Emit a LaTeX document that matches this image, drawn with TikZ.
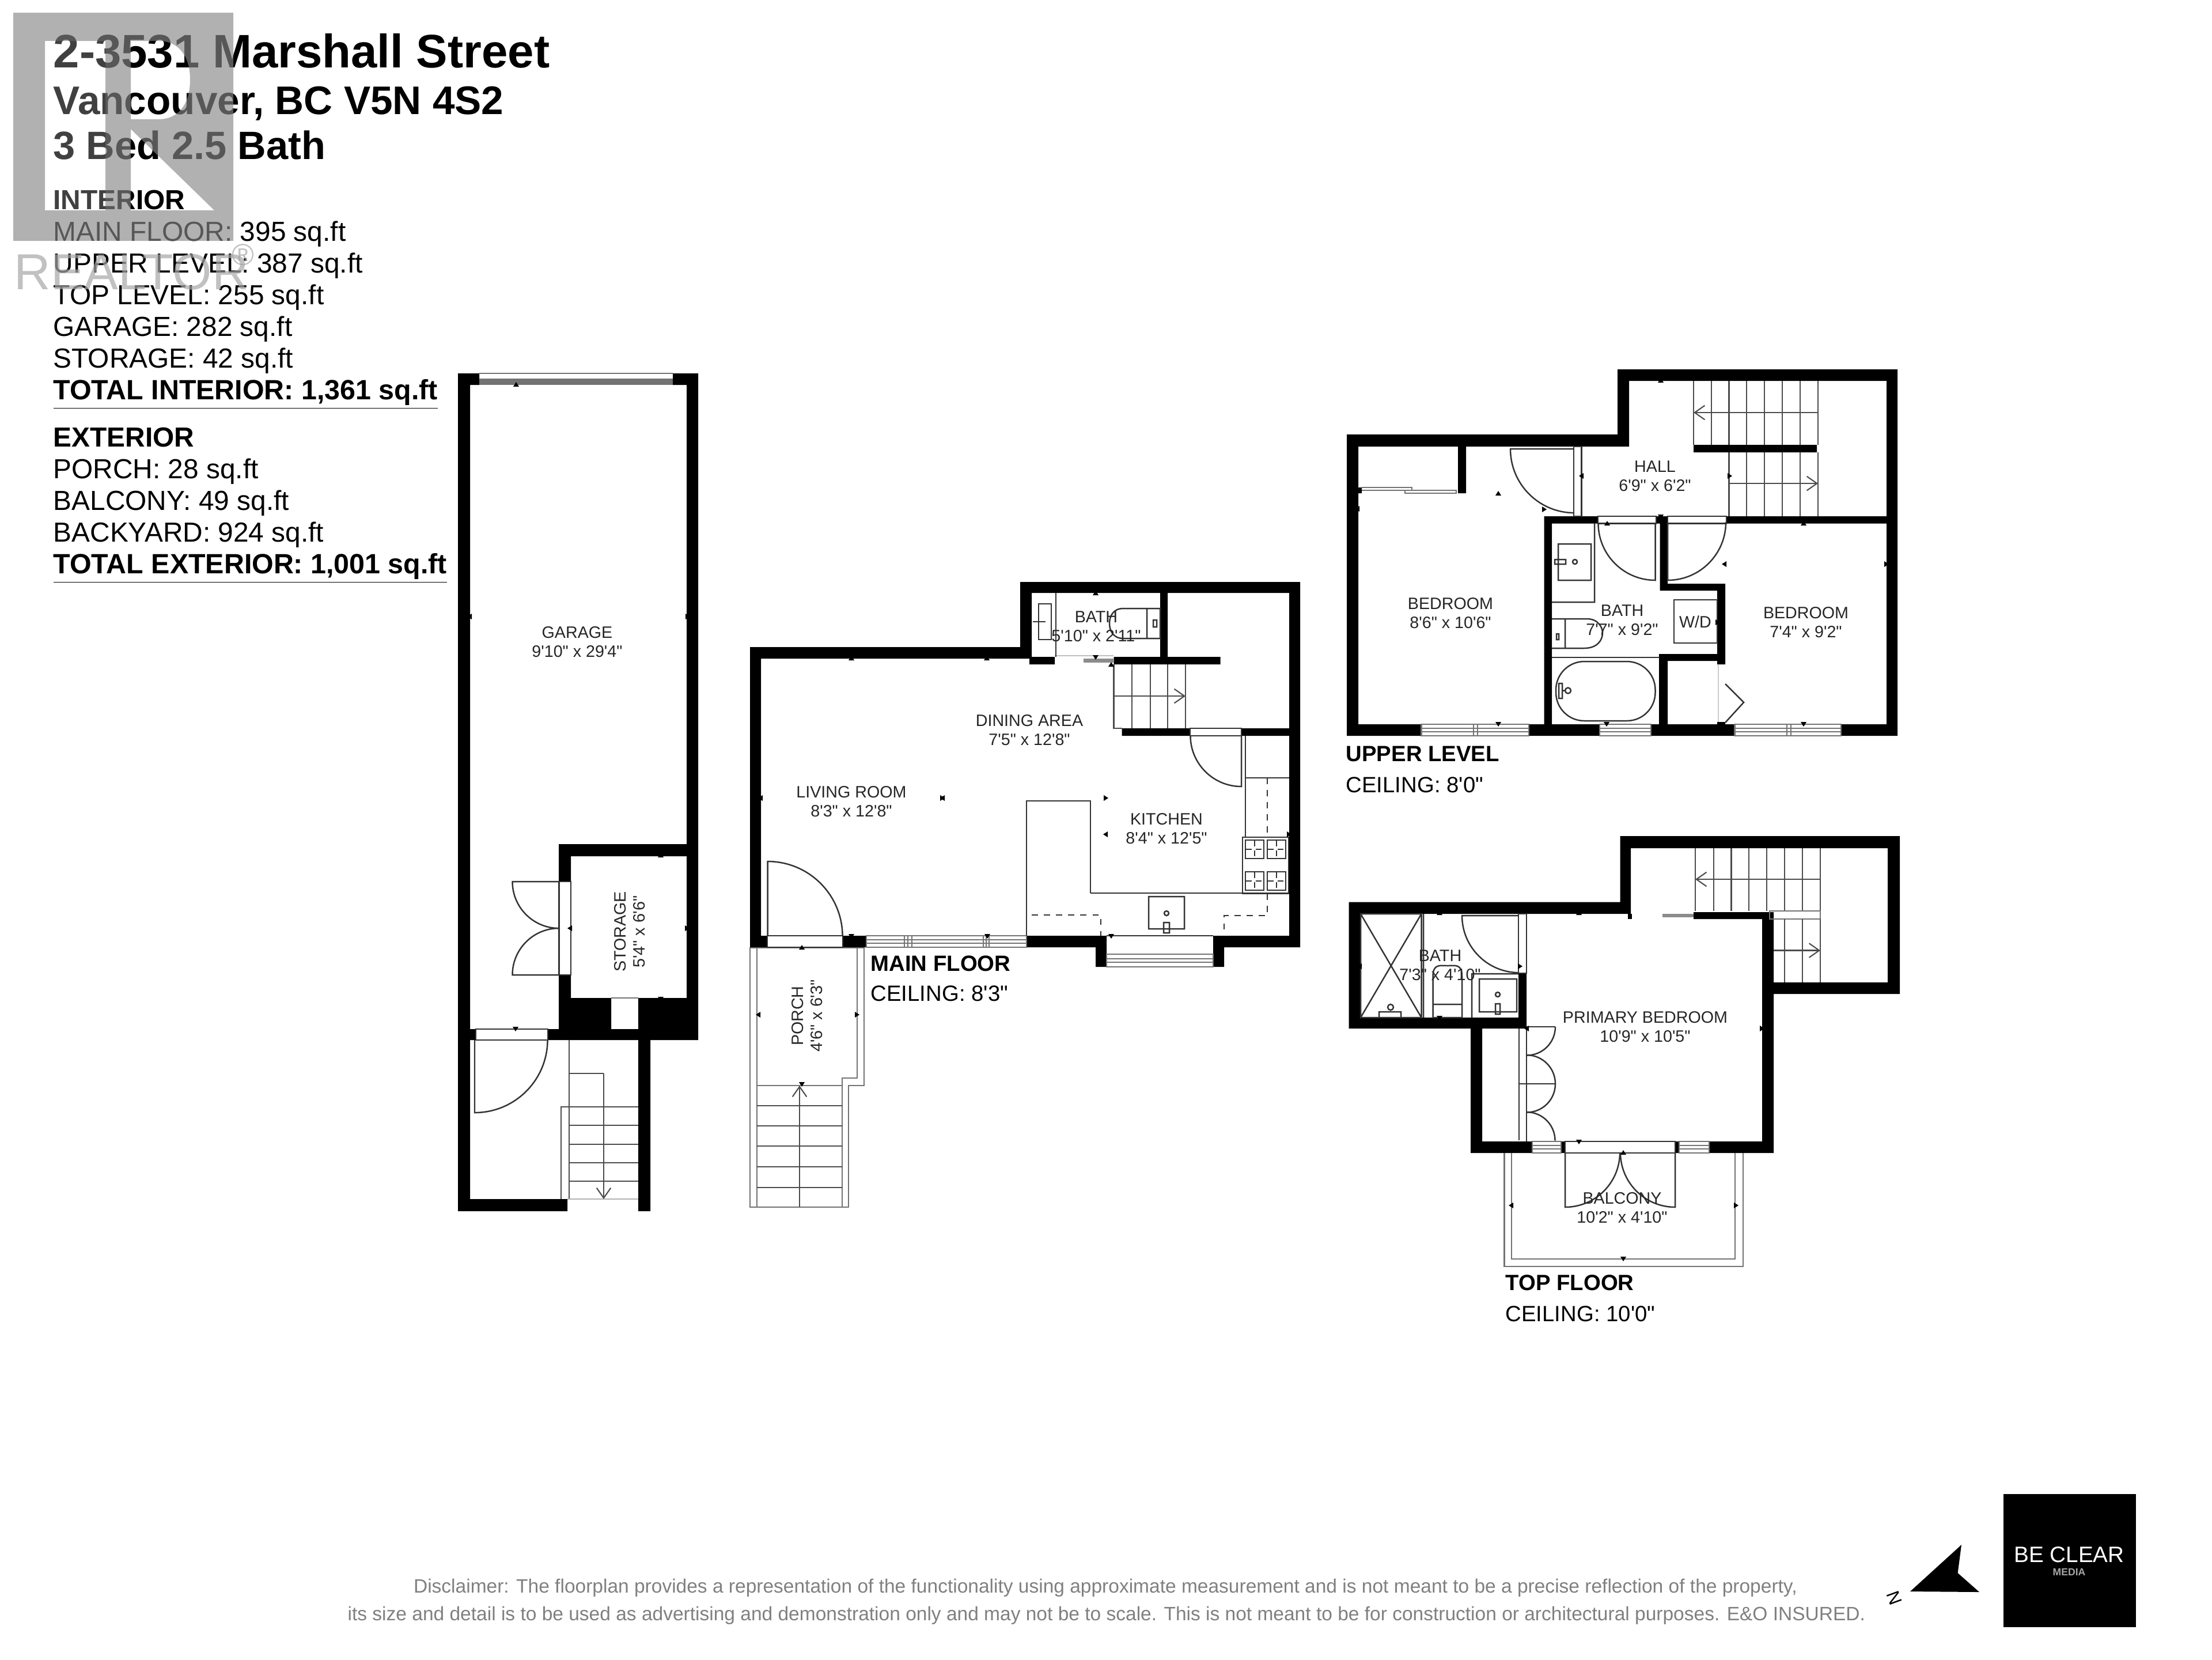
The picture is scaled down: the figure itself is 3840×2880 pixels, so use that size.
\documentclass[tikz,border=0pt]{standalone}
\usepackage{fontspec}
\usetikzlibrary{arrows.meta}
\newfontfamily\planfont{Liberation Sans}
\newcommand{\tickmark}[3]{\fill[black,shift={(#1,#2)},rotate=#3] (-5,0) -- (5,0) -- (0,-8) -- cycle;}
\newcommand{\hwindow}[4]{\draw[greyline] (#1,#3) rectangle (#2,#4) (#1,{#3+(#4-#3)*0.35}) -- (#2,{#3+(#4-#3)*0.35}) (#1,{#3+(#4-#3)*0.65}) -- (#2,{#3+(#4-#3)*0.65});}
\tikzset{
  wall/.style={fill=black,draw=none},
  thinline/.style={draw=black!80,line width=.7pt},
  greyline/.style={draw=black!55,line width=.6pt},
  stairline/.style={draw=black!70,line width=.6pt},
  stairarrow/.style={draw=black!70,line width=.6pt,->,>={Straight Barb[length=5pt,width=7pt]}},
  room/.style={font=\planfont\fontsize{8.15}{9.5}\selectfont,text=black!85,align=center,inner sep=0pt},
  floorname/.style={font=\planfont\bfseries\fontsize{10.9}{12}\selectfont,anchor=west,inner sep=0pt},
  ceiling/.style={font=\planfont\fontsize{10.9}{13}\selectfont,anchor=west,inner sep=0pt},
  areas/.style={font=\planfont\fontsize{13.6}{15.65}\selectfont,align=left,anchor=north west,inner sep=0pt},
  disclaimer/.style={font=\planfont\fontsize{9.53}{11}\selectfont,text=black!50,inner sep=0pt}
}
\begin{document}
\begin{tikzpicture}[x=0.01cm,y=-0.01cm]
\useasboundingbox (0,0) rectangle (3840,2880);

\node[font=\planfont\bfseries\fontsize{23.2}{26}\selectfont,anchor=west,inner sep=0pt] (title) at (92,88) {2-3531 Marshall Street};
\node[font=\planfont\bfseries\fontsize{19.7}{22}\selectfont,anchor=west,inner sep=0pt] (city) at (92,180) {Vancouver, BC V5N 4S2};
\node[font=\planfont\bfseries\fontsize{19.5}{22}\selectfont,anchor=west,inner sep=0pt] (beds) at (92,252) {3 Bed 2.5 Bath};
\node[areas] (interior) at (92,329) {\textbf{INTERIOR}\\MAIN FLOOR: 395 sq.ft\\UPPER LEVEL: 387 sq.ft\\TOP LEVEL: 255 sq.ft\\GARAGE: 282 sq.ft\\STORAGE: 42 sq.ft\\\fontsize{13.75}{15.65}\selectfont\textbf{\underline{TOTAL INTERIOR: 1,361 sq.ft}}};
\node[areas] (exterior) at (92,741) {\textbf{EXTERIOR}\\PORCH: 28 sq.ft\\BALCONY: 49 sq.ft\\BACKYARD: 924 sq.ft\\\fontsize{13.75}{15.65}\selectfont\textbf{\underline{TOTAL EXTERIOR: 1,001 sq.ft}}};

\fill[black!47,opacity=.65,even odd rule] (23,22) rectangle (405,418)
  (78,71) -- (183,71) -- (183,365) -- (78,365) -- cycle
  (227,71) -- (275,71) .. controls (312,71) and (330,100) .. (330,138) .. controls (330,178) and (312,207) .. (275,207) -- (227,207) -- cycle
  (227,224) -- (372,365) -- (227,365) -- cycle;
\fill[white,opacity=.25] (78,71) rectangle (183,365);
\node[font=\planfont\fontsize{25}{28}\selectfont,text=black!35,text opacity=.7,anchor=west,inner sep=0pt] (realtor) at (24,472) {REALTOR};
\node[font=\planfont\fontsize{15}{17}\selectfont,text=black!35,text opacity=.7,inner sep=0pt] (registered) at (422,442) {®};

% garage
\path[wall] (795,648) rectangle (816,2102) (795,648) rectangle (832,668) (1168,648) rectangle (1212,668)
  (1192,648) rectangle (1212,1805) (970,1465) rectangle (1192,1486) (970,1465) rectangle (991,1530)
  (970,1692) rectangle (991,1732) (970,1732) rectangle (1061,1805) (1108,1732) rectangle (1212,1805)
  (1061,1786) rectangle (1108,1805) (951,1786) rectangle (970,1805) (795,1786) rectangle (826,1805)
  (1108,1805) rectangle (1129,2102) (795,2081) rectangle (985,2102);
\fill[black!55] (832,657) rectangle (1168,668);
\draw[greyline] (832,648) -- (1168,648);
\draw[thinline] (970.5,1530) rectangle (991,1692);
\draw[thinline] (826,1786) rectangle (951,1805);
\draw[greyline] (1061,1732) -- (1108,1732);
\draw[thinline] (970.5,1530) -- (889.5,1530) arc[start angle=180,end angle=270,radius=.81cm];
\draw[thinline] (970.5,1692) -- (889.5,1692) arc[start angle=180,end angle=90,radius=.81cm];
\draw[thinline] (824,1805) -- (824,1931) arc[start angle=270,end angle=360,radius=1.265cm];
\draw[stairline] (988,1805) -- (988,2081) (974,2081) -- (974,1921) -- (1108,1921) (988,1863) -- (1048,1863);
\foreach \y in {1953,1986,2018,2050} \draw[stairline] (988,\y) -- (1108,\y);
\draw[greyline,draw=black!30] (985,2081) -- (1108,2081);
\draw[stairarrow] (1048,1863) -- (1048,2081);
\node[room] (garage) at (1002,1114) {GARAGE\\9'10" x 29'4"};
\node[room,rotate=90] (storage) at (1093,1617) {STORAGE\\5'4" x 6'6"};

% porch
\draw[greyline] (1302,1645) -- (1302,2095) -- (1473,2095) -- (1473,1884) -- (1500,1884) -- (1500,1645) -- cycle;
\draw[greyline] (1314,1645) -- (1314,2095) (1488,1645) -- (1488,1871) -- (1462,1871) -- (1462,2095) (1314,1884) -- (1462,1884);
\foreach \y in {1919,1954,1989,2025,2061} \draw[stairline] (1314,\y) -- (1462,\y);
\draw[stairarrow] (1388,2095) -- (1388,1884);
\node[room,rotate=90] (porch) at (1401,1763) {PORCH\\4'6" x 6'3"};

% main floor
\path[wall] (1302,1123) rectangle (1787,1143) (1302,1123) rectangle (1321,1644) (1771,1010) rectangle (1791,1143)
  (1771,1010) rectangle (2257,1029) (2238,1010) rectangle (2257,1644) (2014,1029) rectangle (2027,1140)
  (1933.5,1140) rectangle (2118.5,1153) (1787,1140) rectangle (1831,1153) (1947.5,1264) rectangle (2066,1277)
  (2155,1264) rectangle (2238,1277) (1302,1624) rectangle (1332,1644) (1463,1624) rectangle (1504,1644)
  (1782,1624) rectangle (1921,1644) (1902,1644) rectangle (1921,1678) (2106,1624) rectangle (2125,1678)
  (2106,1624) rectangle (2257,1644);
\hwindow{1504}{1782}{1624}{1644}
\hwindow{1921}{2106}{1656}{1678}
\draw[greyline] (1570,1624) -- (1570,1644) (1576,1624) -- (1576,1644) (1583,1624) -- (1583,1644) (1707,1624) -- (1707,1644) (1712,1624) -- (1712,1644) (1717,1624) -- (1717,1644);
\draw[thinline] (1332,1624) rectangle (1463,1644) (2066,1264) rectangle (2155,1277) (1921,1624) -- (2106,1624);
\draw[thinline] (1332.5,1624) -- (1332.5,1495) arc[start angle=90,end angle=0,radius=1.3cm];
\draw[thinline] (2155,1277) -- (2155,1365) arc[start angle=270,end angle=180,radius=.885cm];
\fill[black!45] (1881,1143) rectangle (1933,1150);
\draw[draw=black!25,line width=.6pt] (1831,1138) -- (1933,1138);
\draw[thinline] (1833,1029) -- (1833,1140) (1803,1048) rectangle (1825,1110) (1793,1079) -- (1815,1079);
\draw[thinline] (1991,1056) rectangle (2014,1108) (1991,1056) -- (1950,1056) .. controls (1932,1056) and (1926,1070) .. (1926,1082) .. controls (1926,1094) and (1932,1108) .. (1950,1108) -- (1991,1108) (2002,1076) rectangle (2008,1088);
\draw[stairline] (1933.5,1153) -- (1933.5,1264) -- (1947.5,1264);
\foreach \x in {1965,1997,2027,2058} \draw[stairline] (\x,1153) -- (\x,1264);
\draw[stairarrow] (1933.5,1208) -- (2058,1208);
\draw[thinline] (2162,1277) -- (2162,1453) (2162,1350) -- (2238,1350) (1893,1550) -- (2238,1550) (1893,1550) -- (1893,1390) -- (1782,1390) -- (1782,1624);
\draw[thinline,dashed] (1791,1588) -- (1911,1588) -- (1911,1624) (2200,1350) -- (2200,1453) (2200,1551) -- (2200,1589) -- (2125,1589) -- (2125,1622);
\draw[thinline] (2157,1453) rectangle (2237,1551);
\foreach \x in {2162,2200} \foreach \y in {1458,1513} {
  \draw[thinline] (\x,\y) rectangle +(32,32);
  \draw[thinline,densely dashed] (\x,\y) ++(16,0) -- +(0,32) (\x,\y) ++(0,16) -- +(32,0);
}
\draw[thinline] (1994,1556) rectangle (2056,1612) (2025,1585) circle[radius=4] (2020,1601) rectangle (2030,1619);
\node[room] (living) at (1478,1391) {LIVING ROOM\\8'3" x 12'8"};
\node[room] (dining) at (1787,1267) {DINING AREA\\7'5" x 12'8"};
\node[room] (kitchen) at (2025,1438) {KITCHEN\\8'4" x 12'5"};
\node[room] (bathmain) at (1903,1087) {BATH\\5'10" x 2'11"};
\node[floorname] (mainname) at (1511,1672) {MAIN FLOOR};
\node[ceiling] (mainceiling) at (1511,1724) {CEILING: 8'3"};

% upper level
\path[wall] (2338,754) rectangle (2826,775) (2338,754) rectangle (2358,1277) (2808,641) rectangle (2828,775)
  (2808,641) rectangle (3294,661) (3275,641) rectangle (3294,1277) (2531,775) rectangle (2545,856)
  (2358,846) rectangle (2364,856) (2680.5,896) rectangle (2774,908.5) (2875,896) rectangle (2895,908.5)
  (2997,896) rectangle (3275,908.5) (2940,772) rectangle (3154,785) (2680.5,896) rectangle (2694,1257)
  (2881.5,908) rectangle (2895,1025) (2881.5,1013) rectangle (2995,1025) (2981,1013) rectangle (2995,1153)
  (2881,1135) rectangle (2995,1147) (2880,1135) rectangle (2895,1257) (2981,1253) rectangle (2995,1257)
  (2338,1257) rectangle (2467.5,1277) (2654,1257) rectangle (2777,1277) (2866,1257) rectangle (3011.5,1277)
  (3196,1257) rectangle (3294,1277);
\hwindow{2467.5}{2654}{1257}{1277}
\hwindow{2777}{2866}{1257}{1277}
\hwindow{3011.5}{3196}{1257}{1277}
\draw[greyline] (2558,1257) -- (2558,1277) (2565,1257) -- (2565,1277) (3102,1257) -- (3102,1277) (3109,1257) -- (3109,1277);
\draw[greyline] (2364,846) -- (2451,846) -- (2451,851) -- (2364,851) (2439,851) rectangle (2528,856);
\draw[thinline] (2732,775) rectangle (2745.5,896) (2774,896) rectangle (2875,908.5) (2895,896) rectangle (2997,908.5);
\draw[thinline] (2732,779) -- (2622,779) arc[start angle=180,end angle=270,radius=1.11cm];
\draw[thinline] (2873.5,908.5) -- (2873.5,1007) arc[start angle=270,end angle=180,radius=.99cm];
\draw[thinline] (2895,908.5) -- (2895,1007) arc[start angle=270,end angle=360,radius=1.01cm];
\draw[thinline] (2768,908) -- (2768,1045) -- (2694,1045) (2705,944) rectangle (2762,1007) (2734,975) circle[radius=4] (2699,971) rectangle (2718,979);
\draw[thinline] (2694,1074) -- (2717,1074) -- (2717,1125) -- (2694,1125) (2717,1074) -- (2755,1074) .. controls (2775,1074) and (2782,1090) .. (2782,1098) .. controls (2782,1112) and (2772,1125) .. (2750,1125) -- (2717,1125) (2702,1100) rectangle (2706,1110);
\draw[thinline] (2694,1141) -- (2881,1141);
\draw[thinline,rounded corners=14pt] (2701,1148) rectangle (2873.5,1251);
\draw[thinline] (2706,1186) rectangle (2712,1212) (2712,1198.5) -- (2717,1198.5) (2722,1198.5) circle[radius=5];
\draw[thinline] (2906,1041) rectangle (2981,1116);
\draw[greyline,draw=black!20] (2983,1153) -- (2983,1253);
\draw[thinline] (2995,1187) -- (3027,1219) -- (2995,1254);
\foreach \x in {2940,2971,3001.5,3032,3063,3094,3125,3156} \draw[stairline] (\x,661) -- (\x,772);
\draw[stairarrow] (3156,716) -- (2940,716);
\foreach \x in {3001.5,3032,3063,3094,3125,3156} \draw[stairline] (\x,785) -- (\x,896);
\draw[stairarrow] (3001.5,839) -- (3156,839);
\node[room] (hall) at (2873,826) {HALL\\6'9" x 6'2"};
\node[room] (bedroomleft) at (2518,1064) {BEDROOM\\8'6" x 10'6"};
\node[room] (bathupper) at (2816,1076) {BATH\\7'7" x 9'2"};
\node[room] (bedroomright) at (3135,1080) {BEDROOM\\7'4" x 9'2"};
\node[room] (washer) at (2943,1079) {W/D};
\node[floorname] (uppername) at (2336,1308) {UPPER LEVEL};
\node[ceiling] (upperceiling) at (2336,1362) {CEILING: 8'0"};

% top floor
\path[wall] (2341.5,1565.5) rectangle (2831,1586) (2341.5,1565.5) rectangle (2362,1785) (2812.5,1451) rectangle (2831,1586)
  (2812.5,1451) rectangle (3298,1472) (3277,1451) rectangle (3298,1725) (3059,1705) rectangle (3298,1725)
  (3059,1583) rectangle (3079,2001) (2940,1583) rectangle (3072,1595) (2341.5,1766) rectangle (2650,1785)
  (2636,1689) rectangle (2650,1785) (2553,1785) rectangle (2573,2001) (2553,1981) rectangle (2660,2001)
  (2710,1981) rectangle (2717,2001) (2908,1981) rectangle (2915,2001) (2967,1981) rectangle (3079,2001);
\path[wall] (2826,1586) rectangle (2833,1595);
\fill[black!45] (2886,1586) rectangle (2940,1592);
\hwindow{2660}{2710}{1981}{2001}
\hwindow{2915}{2967}{1981}{2001}
\draw[thinline] (2717,1981) rectangle (2908,2001) (2636,1586) rectangle (2650,1689);
\draw[thinline] (2636,1589) -- (2538,1589) arc[start angle=180,end angle=270,radius=.99cm];
\draw[thinline] (2637,1785) -- (2637,1979) (2650,1785) -- (2650,1981) (2637,1881) -- (2700,1881) (2650,1782) -- (2700,1782);
\draw[thinline] (2700,1782) arc[start angle=0,end angle=-90,radius=.495cm];
\draw[thinline] (2650,1831) arc[start angle=90,end angle=0,radius=.5cm];
\draw[thinline] (2700,1881) arc[start angle=0,end angle=-90,radius=.495cm];
\draw[thinline] (2650,1930) arc[start angle=90,end angle=0,radius=.495cm];
\draw[thinline] (2362,1586) rectangle (2467.5,1766) (2362,1586) -- (2467.5,1766) (2467.5,1586) -- (2362,1766) (2471,1586) -- (2471,1766);
\draw[thinline] (2487.5,1743) rectangle (2538,1766) (2487.5,1743) -- (2487.5,1695) .. controls (2487.5,1672) and (2500,1676) .. (2513,1676) .. controls (2526,1676) and (2538,1672) .. (2538,1695) -- (2538,1743);
\draw[thinline] (2555,1766) -- (2555,1690) -- (2636,1690) (2568,1699) rectangle (2633,1756) (2600,1726) circle[radius=4] (2596,1742) rectangle (2604,1760);
\draw[thinline] (2394,1766) -- (2394,1756) -- (2432,1756) -- (2432,1766) (2414,1748) circle[radius=5];
\foreach \x in {2943,2975,3005.5,3036,3067,3098,3129,3160} \draw[stairline] (\x,1472) -- (\x,1581);
\draw[stairarrow] (3160,1526) -- (2943,1526);
\draw[greyline] (3072,1581) rectangle (3160,1595);
\foreach \x in {3098,3129,3160} \draw[stairline] (\x,1595) -- (\x,1705);
\draw[stairarrow] (3079,1649.5) -- (3160,1649.5);
\draw[greyline] (2611.5,2001) -- (2611.5,2198) -- (3026,2198) -- (3026,2001) (2624,2001) -- (2624,2185) -- (3012,2185) -- (3012,2001);
\draw[thinline] (2717,2001) -- (2717,2095) arc[start angle=270,end angle=360,radius=.95cm];
\draw[thinline] (2908,2001) -- (2908,2095) arc[start angle=270,end angle=180,radius=.95cm];
\node[room] (primary) at (2856,1782) {PRIMARY BEDROOM\\10'9" x 10'5"};
\node[room] (bathtop) at (2500,1675) {BATH\\7'3" x 4'10"};
\node[room] (balcony) at (2816,2096) {BALCONY\\10'2" x 4'10"};
\node[floorname] (topname) at (2613,2226) {TOP FLOOR};
\node[ceiling] (topceiling) at (2613,2280) {CEILING: 10'0"};

\foreach \x/\y/\a in {896/671/0,819/1070/90,1190/1070/270,895/1782/180,993/1611/90,1189/1611/270,1147/1488/0,1147/1730/180,
  1392/1648/0,1320/1761/90,1484/1761/270,1392/1878/180,1478/1621/180,1714/1621/180,1478/1146/0,1713/1146/0,1324/1385/90,
  1632/1385/270,1640/1385/90,1916/1385/270,1923/1448/90,2234/1448/270,1929/1621/180,1929/1157/0,1902/1033/0,1902/1137/180,
  2883/664/0,2883/893/180,2749/826/90,2999/826/270,2360/883/90,2601/860/0,2677/884/270,2601/1253/180,2790/912/0,2789/1253/180,
  3131/912/0,3131/1253/180,2997/979/90,3271/979/270,2978/1080/270,2499/1588/0,2741/1588/0,2364/1677/90,2635/1677/270,
  2499/1763/180,2654/1785/90,3055/1785/270,2741/1978/180,2818/2004/0,2627/2092/90,3010/2092/270,2818/2181/180}
  {\tickmark{\x}{\y}{\a}}

\node[disclaimer] (disclaimerone) at (1919,2756) {Disclaimer: The floorplan provides a representation of the functionality using approximate measurement and is not meant to be a precise reflection of the property,};
\node[disclaimer] (disclaimertwo) at (1921,2804) {its size and detail is to be used as advertising and demonstration only and may not be to scale. This is not meant to be for construction or architectural purposes. E\&O INSURED.};

\fill[black] (3405,2681) -- (3398.6,2730) -- (3436,2763) -- (3316,2762) -- cycle;
\node[font=\planfont\fontsize{9}{10}\selectfont,rotate=-70,inner sep=0pt] (north) at (3289,2773) {N};
\fill[black] (3478,2593) rectangle (3708,2824);
\node[font=\planfont\fontsize{11}{12}\selectfont,text=white,inner sep=0pt] (beclear) at (3592,2698) {BE CLEAR};
\node[font=\planfont\bfseries\fontsize{5}{6}\selectfont,text=black!35,inner sep=0pt] (media) at (3592,2728) {MEDIA};
\end{tikzpicture}
\end{document}
